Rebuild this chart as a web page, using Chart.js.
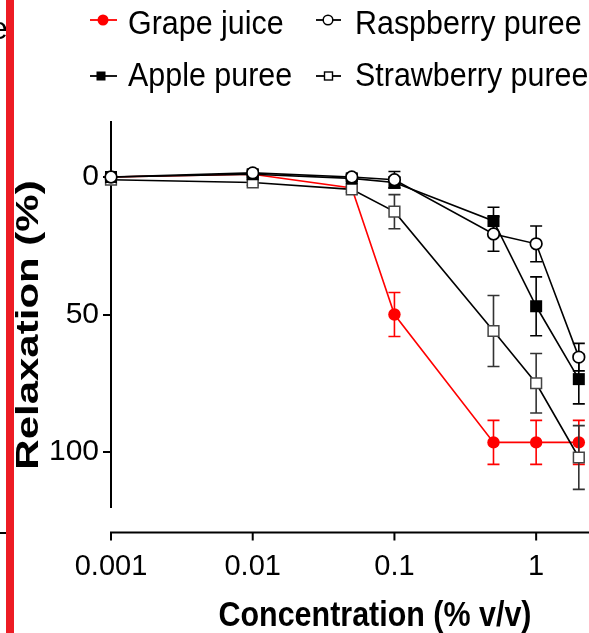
<!DOCTYPE html>
<html>
<head>
<meta charset="utf-8">
<script src="https://cdn.jsdelivr.net/npm/chart.js@4/dist/chart.umd.min.js"></script>
<style>
  body { margin: 0; background: #fff; font-family: "Liberation Sans", Arial, sans-serif; }
  #wrap { position: relative; width: 589px; height: 633px; overflow: hidden; }
  #wrap canvas { position: absolute; left: 0; top: 0; }
  .txt { position: absolute; white-space: nowrap; color: #000; }
  .leg { font-size: 34px; line-height: 34px; transform: scaleX(0.895); transform-origin: left center; }
  .mk { position: absolute; }
</style>
</head>
<body>
<div id="wrap">
  <canvas id="chart" width="589" height="633"></canvas>

  <!-- cropped bits of the neighbouring panel -->
  <div class="txt" style="left:-10px; top:12px; font-size:32px; line-height:32px;">e</div>
  <div style="position:absolute; left:0; top:532px; width:7px; height:2px; background:#000;"></div>
  <div style="position:absolute; left:6px; top:0; width:8px; height:633px; background:#ed1c24;"></div>

  <!-- legend -->
  <svg class="mk" style="left:90px; top:14px;" width="27" height="12">
    <line x1="0" y1="6" x2="27" y2="6" stroke="#ff0000" stroke-width="1.8"/>
    <circle cx="13" cy="6" r="5.5" fill="#ff0000"/>
  </svg>
  <div class="txt leg" style="left:128px; top:5.4px;">Grape juice</div>
  <svg class="mk" style="left:316px; top:14px;" width="25" height="12">
    <line x1="0" y1="6" x2="25" y2="6" stroke="#000" stroke-width="1.8"/>
    <circle cx="12" cy="6" r="4.8" fill="#fff" stroke="#000" stroke-width="1.5"/>
  </svg>
  <div class="txt leg" style="left:355px; top:5.4px;">Raspberry puree</div>
  <svg class="mk" style="left:90px; top:70px;" width="27" height="12">
    <line x1="0" y1="6" x2="27" y2="6" stroke="#000" stroke-width="1.8"/>
    <rect x="6.5" y="1.5" width="9" height="9" fill="#000"/>
  </svg>
  <div class="txt leg" style="left:128px; top:57.2px;">Apple puree</div>
  <svg class="mk" style="left:316px; top:70px;" width="25" height="12">
    <line x1="0" y1="6" x2="25" y2="6" stroke="#000" stroke-width="1.8"/>
    <rect x="8.5" y="2" width="8" height="8" fill="#fff" stroke="#000" stroke-width="1.4"/>
  </svg>
  <div class="txt leg" style="left:355px; top:57.2px;">Strawberry puree</div>

  <!-- axis titles -->
  <div class="txt" style="left:174.6px; top:596px; width:400px; text-align:center; font-size:35px; line-height:35px; font-weight:bold; transform:scaleX(0.87);">Concentration (% v/v)</div>
  <div class="txt" style="left:-172px; top:304px; width:400px; height:42px; text-align:center; font-size:42px; line-height:42px; font-weight:bold; transform:rotate(-90deg) scaleY(0.73);">Relaxation (%)</div>
</div>

<script>
// x positions (% v/v)
const concentrations = [0.001, 0.01, 0.05, 0.1, 0.5, 1, 2];

// relaxation (%) and SEM
const grapeJuice = [0, -1, 4, 50, 96.5, 96.5, 96.5];
const grapeErr = [0, 0, 0, 8, 8, 8, 8];
const applePuree = [0, -1, 0.5, 2, 16, 47, 73.5];
const appleErr = [0, 1, 1, 2, 5, 10.7, 9];
const raspberryPuree = [0, -1.5, 0, 1, 20.7, 24.3, 65.5];
const raspberryErr = [0, 1, 1, 3, 6.3, 6.5, 5];
const strawberryPuree = [1, 2, 4.5, 12.6, 56, 75, 102];
const strawberryErr = [0, 1, 1, 6.2, 12.9, 10.8, 11.6];

const xTicks = [0.001, 0.01, 0.1, 1];
const yTicks = [0, 50, 100];
const xMin = 0.001;
const xMax = 2.36;

function points(values) {
    return concentrations.map((c, i) => ({ x: c, y: values[i] }));
}

// error bars, drawn under each dataset's own line and markers
const errorBars = {
    id: "errorBars",
    beforeDatasetDraw(chart, args) {
        const ds = chart.data.datasets[args.index];
        if (!ds.errors) return;
        const ctx = chart.ctx;
        const xs = chart.scales.x;
        const ys = chart.scales.y;
        ctx.save();
        ctx.strokeStyle = ds.errorColor;
        ctx.lineWidth = 1.6;
        ds.data.forEach((p, i) => {
            const e = ds.errors[i];
            if (!e) return;
            const px = xs.getPixelForValue(p.x);
            const top = ys.getPixelForValue(p.y - e);
            const bot = ys.getPixelForValue(p.y + e);
            ctx.beginPath();
            ctx.moveTo(px, top);
            ctx.lineTo(px, bot);
            ctx.moveTo(px - 6, top);
            ctx.lineTo(px + 6, top);
            ctx.moveTo(px - 6, bot);
            ctx.lineTo(px + 6, bot);
            ctx.stroke();
        });
        ctx.restore();
    }
};

// detached x axis line (sits below the plot area) with its tick marks
const offsetXAxis = {
    id: "offsetXAxis",
    afterDraw(chart) {
        const ctx = chart.ctx;
        const xs = chart.scales.x;
        const area = chart.chartArea;
        const y = area.bottom + 25.6;
        ctx.save();
        ctx.strokeStyle = "#000";
        ctx.lineWidth = 2;
        ctx.beginPath();
        ctx.moveTo(area.left - 1, y);
        ctx.lineTo(chart.width, y);
        xs.ticks.forEach(t => {
            const px = xs.getPixelForValue(t.value);
            ctx.moveTo(px, y);
            ctx.lineTo(px, y + 8);
        });
        ctx.stroke();
        ctx.restore();
    }
};

Chart.defaults.font.family = "'Liberation Sans', Arial, sans-serif";
Chart.defaults.color = "#000";

new Chart(document.getElementById("chart"), {
    type: "line",
    data: {
        datasets: [
            {
                label: "Grape juice",
                data: points(grapeJuice),
                errors: grapeErr,
                errorColor: "#ff0000",
                borderColor: "#ff0000",
                backgroundColor: "#ff0000",
                pointStyle: "circle",
                pointRadius: 6.2,
                pointBorderWidth: 0,
                order: 4
            },
            {
                label: "Apple puree",
                data: points(applePuree),
                errors: appleErr,
                errorColor: "#000",
                borderColor: "#000",
                backgroundColor: "#000",
                pointBorderColor: "#000",
                pointStyle: "rect",
                pointRadius: 8.5,
                pointBorderWidth: 0,
                order: 2
            },
            {
                label: "Raspberry puree",
                data: points(raspberryPuree),
                errors: raspberryErr,
                errorColor: "#000",
                borderColor: "#000",
                backgroundColor: "#fff",
                pointBorderColor: "#000",
                pointStyle: "circle",
                pointRadius: 5.8,
                pointBorderWidth: 1.7,
                order: 1
            },
            {
                label: "Strawberry puree",
                data: points(strawberryPuree),
                errors: strawberryErr,
                errorColor: "#333",
                borderColor: "#000",
                backgroundColor: "#fff",
                pointBorderColor: "#444",
                pointStyle: "rect",
                pointRadius: 7.6,
                pointBorderWidth: 1.5,
                order: 3
            }
        ]
    },
    options: {
        responsive: false,
        animation: false,
        events: [],
        layout: { autoPadding: false, padding: { top: 122, left: 0, right: 0, bottom: 0 } },
        elements: { line: { borderWidth: 1.6, tension: 0 } },
        datasets: { line: { clip: false } },
        plugins: { legend: { display: false }, tooltip: { enabled: false } },
        scales: {
            x: {
                type: "logarithmic",
                min: xMin,
                max: xMax,
                bounds: "data",
                grid: { display: false, drawTicks: false },
                border: { display: false },
                afterBuildTicks: s => {
                    s.ticks = xTicks.map(v => ({ value: v }));
                    s.min = xMin;
                    s.max = xMax;
                },
                afterFit: s => {
                    s.height = 126;
                    s.paddingLeft = 0;
                    s.paddingRight = 0;
                },
                ticks: {
                    autoSkip: false,
                    maxRotation: 0,
                    padding: 43,
                    font: { size: 29 },
                    callback: v => String(v)
                }
            },
            y: {
                type: "linear",
                reverse: true,
                min: -20,
                max: 120,
                grid: { drawOnChartArea: false, tickLength: 8, lineWidth: 2, color: "#000" },
                border: { display: true, width: 2, color: "#000" },
                afterBuildTicks: s => { s.ticks = yTicks.map(v => ({ value: v })); },
                afterFit: s => { s.width = 111; },
                ticks: { padding: 4, font: { size: 30 } }
            }
        }
    },
    plugins: [errorBars, offsetXAxis]
});
</script>
</body>
</html>
